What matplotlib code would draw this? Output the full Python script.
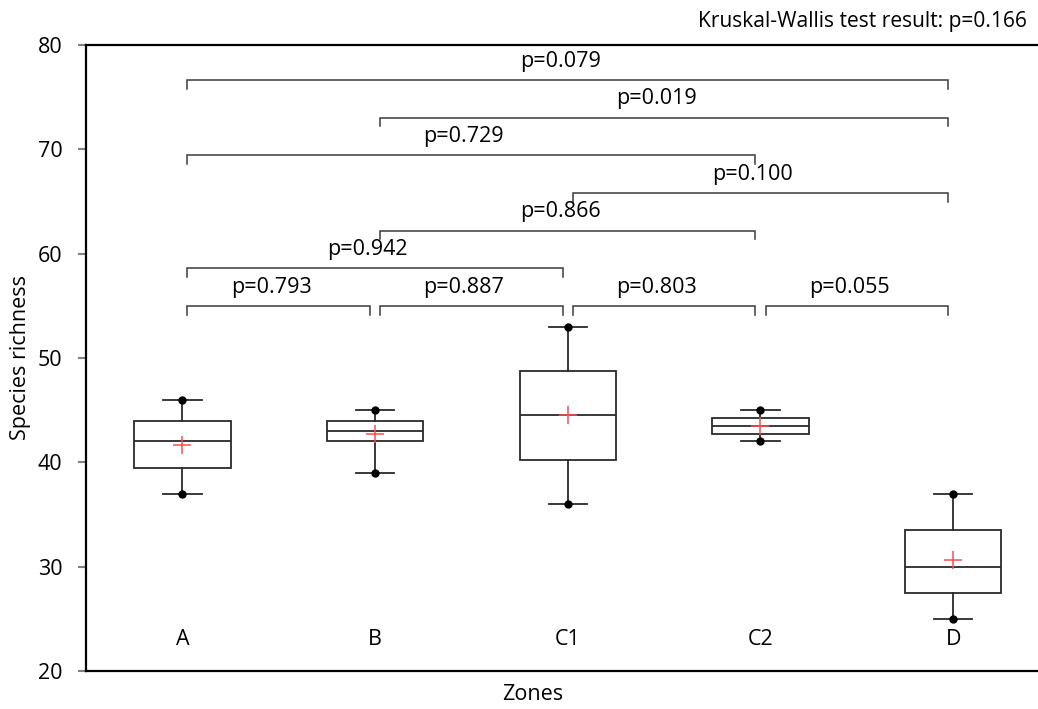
import matplotlib
matplotlib.use("Agg")
import matplotlib.pyplot as plt

# ---------------- data ----------------
zones = ["A", "B", "C1", "C2", "D"]
whisker_low = [37, 39, 36, 42, 25]
q1 = [39.5, 42, 40.25, 42.75, 27.5]
medians = [42, 43, 44.5, 43.5, 30]
q3 = [44, 44, 48.75, 44.25, 33.5]
whisker_high = [46, 45, 53, 45, 37]
means = [41.7, 42.7, 44.5, 43.5, 30.6]

pair_first = ["A", "B", "C1", "C2", "A", "B", "C1", "A", "B", "A"]
pair_second = ["B", "C1", "C2", "D", "C1", "C2", "D", "C2", "D", "D"]
pair_pvalues = ["0.793", "0.887", "0.803", "0.055", "0.942", "0.866", "0.100",
                "0.729", "0.019", "0.079"]
kruskal_p = "0.166"

# ---------------- figure ----------------
plt.rcParams['font.family'] = ['Open Sans', 'DejaVu Sans']
W, H = 1038, 709
FS = 15.5
fig = plt.figure(figsize=(W / 100, H / 100), dpi=100)
ax = fig.add_axes([86 / W, (H - 671) / H, (W - 86) / W, (671 - 45) / H])

positions = list(range(1, len(zones) + 1))
stats = []
for i, z in enumerate(zones):
    stats.append(dict(label=z, whislo=whisker_low[i], q1=q1[i], med=medians[i],
                      q3=q3[i], whishi=whisker_high[i], mean=means[i], fliers=[]))

dark = "#2a2a2a"
ax.bxp(stats, positions=positions, widths=0.5, showmeans=True, showfliers=False,
       patch_artist=True,
       boxprops=dict(facecolor="white", edgecolor=dark, linewidth=1.3),
       medianprops=dict(color=dark, linewidth=1.3),
       whiskerprops=dict(color=dark, linewidth=1.3),
       capprops=dict(color=dark, linewidth=1.3),
       capwidths=0.2,
       meanprops=dict(marker="+", markeredgecolor="#ff4d4d", markersize=13,
                      markeredgewidth=1.1))
# dots at whisker ends
ax.plot(positions, whisker_low, "o", color="black", markersize=5, zorder=5)
ax.plot(positions, whisker_high, "o", color="black", markersize=5, zorder=5)

# category labels inside the axes
for p, z in zip(positions, zones):
    ax.text(p, 23, z, ha="center", va="center", fontsize=FS, color="black")

# brackets
idx = {z: i + 1 for i, z in enumerate(zones)}
base, step, tick, off = 55.0, 3.61, 0.85, 0.026
level = 0
for a, b, pv in zip(pair_first, pair_second, pair_pvalues):
    x1, x2 = idx[a], idx[b]
    if x2 - x1 == 1:
        lv = 0
    else:
        level += 1
        lv = level
    y = base + lv * step
    ax.plot([x1 + off, x1 + off, x2 - off, x2 - off], [y - tick, y, y, y - tick],
            color="#3a3a3a", linewidth=1.1, solid_joinstyle="miter")
    ax.text((x1 + x2) / 2 - 0.04, y + 1.25, "p=" + pv, ha="center", va="baseline",
            fontsize=FS, color="black")

ax.set_xlim(0.5, 5.44)
ax.set_ylim(20, 80)
ax.set_yticks([20, 30, 40, 50, 60, 70, 80])
ax.set_xticks([])
ax.tick_params(axis="y", direction="out", length=6, width=1.5, color="#808080",
               pad=11, labelsize=FS)
for s in ["left", "top", "bottom"]:
    ax.spines[s].set_linewidth(1.6)
    ax.spines[s].set_color("black")
ax.spines["right"].set_visible(False)

ax.set_ylabel("Species richness", fontsize=FS, labelpad=5)
fig.text(533 / W, 1 - 695 / H, "Zones", ha="center", va="center", fontsize=FS)
fig.text(1027 / W, 1 - 27 / H, "Kruskal-Wallis test result: p=" + kruskal_p,
         ha="right", va="baseline", fontsize=15.1)

fig.savefig("out.png", dpi=100)
